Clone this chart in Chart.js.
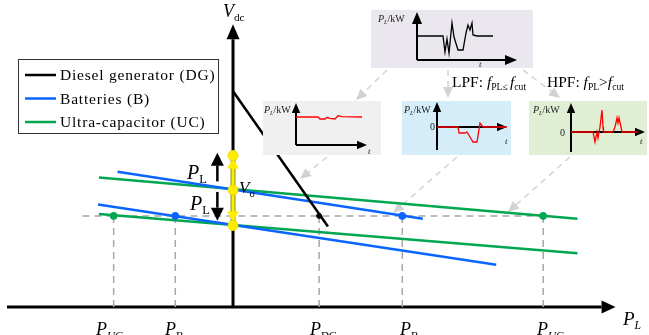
<!DOCTYPE html>
<html>
<head>
<meta charset="utf-8">
<script src="https://cdn.jsdelivr.net/npm/chart.js@4.4.1/dist/chart.umd.min.js"></script>
<style>
  html, body { margin: 0; padding: 0; background: #fff; }
  #wrap { position: relative; width: 649px; height: 335px; overflow: hidden; }
  #main { position: absolute; left: 0; top: 0; }
  .inset { position: absolute; }
</style>
</head>
<body>
<div id="wrap"><canvas id="main" width="649" height="335"></canvas></div>
<script>
// droop lines, x = P_L, y = V_dc (origin where the axes cross)
const dgLine = [[0, 225], [97, 84]];
const battUpper = [[-118, 141], [194, 92]];
const battLower = [[-138, 107], [269, 44]];
const ucUpper = [[-137, 135], [352, 92]];
const ucLower = [[-137, 97], [352, 56]];

// operating level and the powers where the lines cross it
const refLevel = 95;
const refStart = -154;
const refEnd = 317;
const dgPower = [88];
const battPower = [-59, 173];
const ucPower = [-122, 317];

// voltage band on the V_dc axis
const bandLevels = [85, 122, 158];
const bandArrows = [148, 96];      // up / down heads
const loadArrows = [[-16, 131, 161], [-16, 120, 90]];

// inset signals, t vs P_L
const loadProfile = [[0,24],[26,24],[28,8],[30,21],[32,7],[35,37],[37,23],[41,10],[46,10],[49,27],[51,35],[53,30],[55,37],[56,25],[60,24],[76,24]];
const dgProfile = [[0,28],[22,28],[24,26],[29,26],[31,27.7],[34,26.7],[39,26],[42,29.3],[46,28.3],[66,28]];
const lpfProfile = [[0,0],[21,0],[22,-6],[28,-6],[30,-5],[33,-10],[36,-15],[40,-15],[43,4],[46,0],[70,0]];
const hpfProfile = [[0,0],[22,0],[24,-10],[26,0],[27,-6],[29,5],[31,22],[32,5],[32.5,0],[42,0],[44,5],[46,14],[47,9],[48,14],[50,5],[51,0],[67,0]];

const BLUE = "#0a64ff", GREEN = "#00a650", BLACK = "#000", RED = "#ff0000";
const SERIF = '"Liberation Serif", "DejaVu Serif", serif';

const pts = (arr) => arr.map(([x, y]) => ({ x, y }));

function rich(ctx, x, y, parts, size) {
  let cx = x;
  parts.forEach(([t, st]) => {
    const sub = st.indexOf("s") >= 0;
    const it = st.indexOf("i") >= 0;
    const fs = sub ? size * 0.62 : size;
    ctx.font = (it ? "italic " : "") + fs.toFixed(1) + "px " + SERIF;
    ctx.fillText(t, cx, y + (sub ? size * 0.22 : 0));
    cx += ctx.measureText(t).width;
  });
}

function arrow(ctx, x1, y1, x2, y2, len, half, color, width, dash) {
  const a = Math.atan2(y2 - y1, x2 - x1);
  const bx = x2 - Math.cos(a) * len, by = y2 - Math.sin(a) * len;
  ctx.save();
  ctx.strokeStyle = color;
  ctx.fillStyle = color;
  ctx.lineWidth = width;
  ctx.setLineDash(dash || []);
  ctx.beginPath();
  ctx.moveTo(x1, y1);
  ctx.lineTo(bx, by);
  ctx.stroke();
  ctx.setLineDash([]);
  ctx.beginPath();
  ctx.moveTo(x2, y2);
  ctx.lineTo(bx + Math.sin(a) * half, by - Math.cos(a) * half);
  ctx.lineTo(bx - Math.sin(a) * half, by + Math.cos(a) * half);
  ctx.closePath();
  ctx.fill();
  ctx.restore();
}

// dashed vertical drops, broken with nulls
const drops = [];
[...ucPower, ...battPower, ...dgPower].forEach((p) => {
  drops.push({ x: p, y: refLevel }, { x: p, y: 0 }, { x: p, y: null });
});

const diagramPlugin = {
  id: "diagram",
  beforeDatasetsDraw(chart) {
    const { ctx, scales: { x, y } } = chart;
    // gray links from the load profile to the split signals
    const links = [
      [387, 70, 356, 100], [448, 70, 448, 98], [523, 70, 560, 98],
      [327, 157, 300, 179], [457, 157, 393, 213], [570, 157, 508, 212]
    ];
    links.forEach(([a, b, c, d]) => arrow(ctx, a, b, c, d, 11, 5, "#d2d2d2", 1.5, [6, 5]));

    // main axes
    arrow(ctx, x.getPixelForValue(x.min), y.getPixelForValue(0), x.getPixelForValue(391), y.getPixelForValue(0), 14, 6.5, BLACK, 3);
    arrow(ctx, x.getPixelForValue(0), y.getPixelForValue(0), x.getPixelForValue(0), y.getPixelForValue(295), 15, 6.5, BLACK, 3);
  },
  afterDatasetsDraw(chart) {
    const { ctx, scales: { x, y } } = chart;
    loadArrows.forEach(([px, from, to]) => {
      arrow(ctx, x.getPixelForValue(px), y.getPixelForValue(from), x.getPixelForValue(px), y.getPixelForValue(to), 13, 6.5, BLACK, 2.5);
    });

    ctx.save();
    ctx.fillStyle = "#000";
    ctx.textBaseline = "alphabetic";
    rich(ctx, 223, 17, [["V", "i"], ["dc", "s"]], 18);
    rich(ctx, 187, 179, [["P", "i"], ["L", "s"]], 20);
    rich(ctx, 190, 210, [["P", "i"], ["L", "s"]], 20);
    rich(ctx, 239, 193, [["V", "i"], ["o", "s"]], 17);
    rich(ctx, 623, 325, [["P", "i"], ["L", "si"]], 19);
    rich(ctx, 96, 335, [["P", "i"], ["UC", "si"]], 18);
    rich(ctx, 165, 335, [["P", "i"], ["B", "s"]], 18);
    rich(ctx, 310, 335, [["P", "i"], ["DG", "s"]], 18);
    rich(ctx, 400, 335, [["P", "i"], ["B", "s"]], 18);
    rich(ctx, 537, 335, [["P", "i"], ["UC", "si"]], 18);
    rich(ctx, 452, 87, [["LPF: ", ""], ["f", "i"], ["PL", "s"], ["\u2264 ", "s"], ["f", "i"], ["cut", "s"]], 15.5);
    rich(ctx, 547, 87, [["HPF: ", ""], ["f", "i"], ["PL", "s"], [">", ""], ["f", "i"], ["cut", "s"]], 15.5);

    // legend
    ctx.fillStyle = "#fff";
    ctx.fillRect(18, 59, 200, 74);
    ctx.strokeStyle = "#333";
    ctx.lineWidth = 1;
    ctx.strokeRect(18.5, 59.5, 200, 74);
    const items = [["Diesel generator (DG)", BLACK], ["Batteries (B)", BLUE], ["Ultra-capacitor (UC)", GREEN]];
    items.forEach(([label, col], i) => {
      const ly = 75 + i * 23.5;
      ctx.strokeStyle = col;
      ctx.lineWidth = 2.5;
      ctx.beginPath();
      ctx.moveTo(25, ly);
      ctx.lineTo(56, ly);
      ctx.stroke();
      ctx.fillStyle = "#000";
      ctx.font = "15.5px " + SERIF;
      ctx.letterSpacing = "0.8px";
      ctx.fillText(label, 60, ly + 5);
      ctx.letterSpacing = "0px";
    });
    ctx.restore();
  }
};

new Chart(document.getElementById("main"), {
  type: "scatter",
  data: {
    datasets: [
      { data: pts([[0, bandLevels[0]], [0, bandLevels[2]]]), showLine: true, borderColor: "#ffee00", borderWidth: 3, pointRadius: 0, order: 2 },
      { data: pts([[0, bandLevels[0]], [0, bandLevels[2]]]), showLine: true, borderColor: "#8c8c20", borderWidth: 5, pointRadius: 0, order: 3 },
      { data: bandLevels.map((v) => ({ x: 0, y: v })), backgroundColor: "#ffee00", borderColor: "#e8d800", pointRadius: 5, order: 0 },
      { data: bandArrows.map((v) => ({ x: 0, y: v })), pointStyle: "triangle", rotation: [0, 180], backgroundColor: "#ffee00", borderColor: "#ffee00", pointRadius: 6, order: 1 },
      { data: ucPower.map((p) => ({ x: p, y: refLevel })), backgroundColor: GREEN, borderColor: GREEN, pointRadius: 3.5, order: 0 },
      { data: battPower.map((p) => ({ x: p, y: refLevel })), backgroundColor: BLUE, borderColor: BLUE, pointRadius: 3.5, order: 0 },
      { data: dgPower.map((p) => ({ x: p, y: refLevel })), backgroundColor: BLACK, borderColor: BLACK, pointRadius: 2.5, order: 0 },
      { data: pts(dgLine), showLine: true, borderColor: BLACK, borderWidth: 2.5, pointRadius: 0, order: 4 },
      { data: pts(battUpper), showLine: true, borderColor: BLUE, borderWidth: 2.5, pointRadius: 0, order: 5 },
      { data: pts(battLower), showLine: true, borderColor: BLUE, borderWidth: 2.5, pointRadius: 0, order: 5 },
      { data: pts(ucUpper), showLine: true, borderColor: GREEN, borderWidth: 2.5, pointRadius: 0, order: 6 },
      { data: pts(ucLower), showLine: true, borderColor: GREEN, borderWidth: 2.5, pointRadius: 0, order: 6 },
      { data: [{ x: refStart, y: refLevel }, { x: refEnd, y: refLevel }], showLine: true, borderColor: "#a8a8a8", borderWidth: 1.5, borderDash: [7, 5], pointRadius: 0, order: 8 },
      { data: drops, showLine: true, spanGaps: false, borderColor: "#a8a8a8", borderWidth: 1.5, borderDash: [7, 5], pointRadius: 0, order: 8 }
    ]
  },
  options: {
    responsive: false,
    animation: false,
    events: [],
    layout: { padding: 0 },
    plugins: { legend: { display: false }, tooltip: { enabled: false } },
    scales: {
      x: { type: "linear", min: -231, max: 418, display: false },
      y: { type: "linear", min: -22, max: 313, display: false }
    }
  },
  plugins: [diagramPlugin]
});

// inset panels
const insets = [
  { box: [371, 10, 162, 58], bg: "#ebe7ef", origin: [417, 60], xLen: 100, yUp: 48, yDown: 0, data: loadProfile, color: BLACK, head: 12, label: [7, 12], t: [108, 57] },
  { box: [263, 101, 118, 54], bg: "#f0f0f0", origin: [296, 145], xLen: 71, yUp: 42, yDown: 0, data: dgProfile, color: RED, head: 10, label: [1, 12], t: [105, 53] },
  { box: [402, 101, 109, 54], bg: "#d5edf9", origin: [437, 127], xLen: 70, yUp: 25, yDown: 23, data: lpfProfile, color: RED, head: 10, label: [2, 12], t: [103, 43], zero: [28, 29] },
  { box: [529, 101, 118, 54], bg: "#e0eed3", origin: [571, 132], xLen: 74, yUp: 29, yDown: 20, data: hpfProfile, color: RED, head: 10, label: [4, 12], t: [111, 43], zero: [31, 35] }
];

insets.forEach((cfg) => {
  const [bx, by, bw, bh] = cfg.box;
  const div = document.createElement("div");
  div.className = "inset";
  div.style.cssText = `left:${bx}px;top:${by}px;width:${bw}px;height:${bh}px;background:${cfg.bg};`;
  const cv = document.createElement("canvas");
  cv.width = bw;
  cv.height = bh;
  div.appendChild(cv);
  document.getElementById("wrap").appendChild(div);

  const [ox, oy] = cfg.origin;
  const axesPlugin = {
    id: "insetAxes",
    beforeDatasetsDraw(chart) {
      const { ctx, scales: { x, y } } = chart;
      const x0 = x.getPixelForValue(0), y0 = y.getPixelForValue(0);
      arrow(ctx, x0, y0, x.getPixelForValue(cfg.xLen), y0, cfg.head, cfg.head * 0.42, BLACK, 2);
      arrow(ctx, x0, y.getPixelForValue(-cfg.yDown), x0, y.getPixelForValue(cfg.yUp), cfg.head, cfg.head * 0.42, BLACK, 2);
    },
    afterDatasetsDraw(chart) {
      const ctx = chart.ctx;
      ctx.save();
      ctx.fillStyle = "#222";
      rich(ctx, cfg.label[0], cfg.label[1], [["P", "i"], ["L", "si"], ["/kW", ""]], 10);
      rich(ctx, cfg.t[0], cfg.t[1], [["t", "i"]], 9);
      if (cfg.zero) rich(ctx, cfg.zero[0], cfg.zero[1], [["0", ""]], 10);
      ctx.restore();
    }
  };

  new Chart(cv, {
    type: "line",
    data: {
      datasets: [{ data: pts(cfg.data), borderColor: cfg.color, borderWidth: 1.3, pointRadius: 0, tension: 0 }]
    },
    options: {
      responsive: false,
      animation: false,
      events: [],
      layout: {
        padding: {
          left: ox - bx,
          right: bx + bw - (ox + cfg.xLen),
          top: oy - cfg.yUp - by,
          bottom: by + bh - (oy + cfg.yDown)
        }
      },
      plugins: { legend: { display: false }, tooltip: { enabled: false } },
      scales: {
        x: { type: "linear", min: 0, max: cfg.xLen, display: false },
        y: { type: "linear", min: -cfg.yDown, max: cfg.yUp, display: false }
      }
    },
    plugins: [axesPlugin]
  });
});
</script>
</body>
</html>
